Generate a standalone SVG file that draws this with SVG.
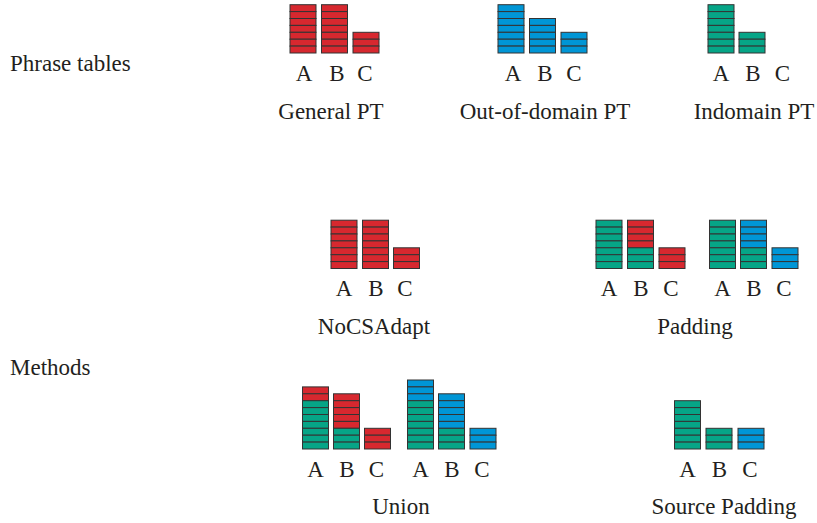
<svg xmlns="http://www.w3.org/2000/svg" width="817" height="523" viewBox="0 0 817 523">
<style>
  .t { font-family: Liberation Serif, Times New Roman, Times, serif; font-size: 23px; fill: #231f20; }
  .m { text-anchor: middle; }
  .c { stroke: #333333; stroke-width: 1; }
  .red { fill: #d7282f; }
  .blue { fill: #0096d6; }
  .green { fill: #06a587; }
</style>
<defs>
  <rect id="cr" class="c red" width="26" height="6.9"/>
  <rect id="cb" class="c blue" width="26" height="6.9"/>
  <rect id="cg" class="c green" width="26" height="6.9"/>
  <g id="R7"><use href="#cr"/><use href="#cr" y="6.9"/><use href="#cr" y="13.8"/><use href="#cr" y="20.7"/><use href="#cr" y="27.6"/><use href="#cr" y="34.5"/><use href="#cr" y="41.4"/></g>
  <g id="R3"><use href="#cr"/><use href="#cr" y="6.9"/><use href="#cr" y="13.8"/></g>
  <g id="B7"><use href="#cb"/><use href="#cb" y="6.9"/><use href="#cb" y="13.8"/><use href="#cb" y="20.7"/><use href="#cb" y="27.6"/><use href="#cb" y="34.5"/><use href="#cb" y="41.4"/></g>
  <g id="B5"><use href="#cb"/><use href="#cb" y="6.9"/><use href="#cb" y="13.8"/><use href="#cb" y="20.7"/><use href="#cb" y="27.6"/></g>
  <g id="B3"><use href="#cb"/><use href="#cb" y="6.9"/><use href="#cb" y="13.8"/></g>
  <g id="G7"><use href="#cg"/><use href="#cg" y="6.9"/><use href="#cg" y="13.8"/><use href="#cg" y="20.7"/><use href="#cg" y="27.6"/><use href="#cg" y="34.5"/><use href="#cg" y="41.4"/></g>
  <g id="G3"><use href="#cg"/><use href="#cg" y="6.9"/><use href="#cg" y="13.8"/></g>
  <g id="R4G3"><use href="#cr"/><use href="#cr" y="6.9"/><use href="#cr" y="13.8"/><use href="#cr" y="20.7"/><use href="#G3" y="27.6"/></g>
  <g id="B4G3"><use href="#cb"/><use href="#cb" y="6.9"/><use href="#cb" y="13.8"/><use href="#cb" y="20.7"/><use href="#G3" y="27.6"/></g>
  <g id="R2G7"><use href="#cr"/><use href="#cr" y="6.9"/><use href="#G7" y="13.8"/></g>
  <g id="R5G3"><use href="#cr"/><use href="#cr" y="6.9"/><use href="#cr" y="13.8"/><use href="#cr" y="20.7"/><use href="#cr" y="27.6"/><use href="#G3" y="34.5"/></g>
  <g id="B3G7"><use href="#B3"/><use href="#G7" y="20.7"/></g>
  <g id="B5G3"><use href="#B5"/><use href="#G3" y="34.5"/></g>
</defs>

<text class="t" font-family="Liberation Serif" x="10" y="71">Phrase tables</text>
<text class="t" font-family="Liberation Serif" x="10" y="375">Methods</text>

<g id="general-pt">
  <use href="#R7" x="290" y="4.7"/>
  <use href="#R7" x="321.5" y="4.7"/>
  <use href="#R3" x="353" y="32.3"/>
  <text class="t m" x="304" y="81">A</text>
  <text class="t m" x="337" y="81">B</text>
  <text class="t m" x="365" y="81">C</text>
  <text class="t m" x="331" y="119">General PT</text>
</g>

<g id="out-of-domain-pt">
  <use href="#B7" x="498" y="4.7"/>
  <use href="#B5" x="529.5" y="18.5"/>
  <use href="#B3" x="561" y="32.3"/>
  <text class="t m" x="513" y="81">A</text>
  <text class="t m" x="545" y="81">B</text>
  <text class="t m" x="574" y="81">C</text>
  <text class="t m" x="545" y="119">Out-of-domain PT</text>
</g>

<g id="indomain-pt">
  <use href="#G7" x="708" y="4.7"/>
  <use href="#G3" x="739" y="32.3"/>
  <text class="t m" x="721" y="81">A</text>
  <text class="t m" x="753" y="81">B</text>
  <text class="t m" x="782.5" y="81">C</text>
  <text class="t m" x="754" y="119">Indomain PT</text>
</g>

<g id="nocsadapt">
  <use href="#R7" x="331" y="220.2"/>
  <use href="#R7" x="362.5" y="220.2"/>
  <use href="#R3" x="393.5" y="247.8"/>
  <text class="t m" x="344" y="296">A</text>
  <text class="t m" x="376" y="296">B</text>
  <text class="t m" x="405" y="296">C</text>
  <text class="t m" x="374" y="334">NoCSAdapt</text>
</g>

<g id="padding">
  <use href="#G7" x="596" y="220.2"/>
  <use href="#R4G3" x="627.5" y="220.2"/>
  <use href="#R3" x="659" y="247.8"/>
  <use href="#G7" x="709.5" y="220.2"/>
  <use href="#B4G3" x="740.5" y="220.2"/>
  <use href="#B3" x="772" y="247.8"/>
  <text class="t m" x="609" y="296">A</text>
  <text class="t m" x="641" y="296">B</text>
  <text class="t m" x="671" y="296">C</text>
  <text class="t m" x="722.5" y="296">A</text>
  <text class="t m" x="754" y="296">B</text>
  <text class="t m" x="784" y="296">C</text>
  <text class="t m" x="695" y="334">Padding</text>
</g>

<g id="union">
  <use href="#R2G7" x="302.5" y="386.9"/>
  <use href="#R5G3" x="333.5" y="393.8"/>
  <use href="#R3" x="364.5" y="428.3"/>
  <use href="#B3G7" x="407.5" y="380"/>
  <use href="#B5G3" x="438.5" y="393.8"/>
  <use href="#B3" x="470" y="428.3"/>
  <text class="t m" x="315.5" y="476.5">A</text>
  <text class="t m" x="347" y="476.5">B</text>
  <text class="t m" x="376.5" y="476.5">C</text>
  <text class="t m" x="420.5" y="476.5">A</text>
  <text class="t m" x="452" y="476.5">B</text>
  <text class="t m" x="482" y="476.5">C</text>
  <text class="t m" x="401" y="514">Union</text>
</g>

<g id="source-padding">
  <use href="#G7" x="674.5" y="400.7"/>
  <use href="#G3" x="706" y="428.3"/>
  <use href="#B3" x="738" y="428.3"/>
  <text class="t m" x="687.5" y="476.5">A</text>
  <text class="t m" x="719.5" y="476.5">B</text>
  <text class="t m" x="750" y="476.5">C</text>
  <text class="t m" x="724" y="514">Source Padding</text>
</g>
</svg>
